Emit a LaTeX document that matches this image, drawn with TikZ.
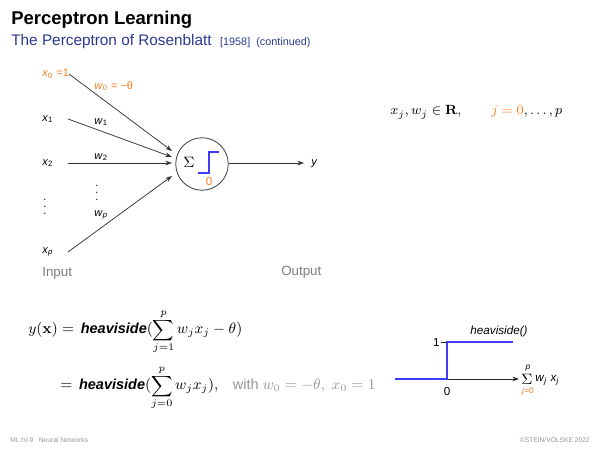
\documentclass[tikz,border=0pt]{standalone}
\usepackage{amsmath,amssymb}
\usepackage[no-math]{fontspec}
\setmainfont{Liberation Sans}
\usetikzlibrary{arrows.meta,calc}
\definecolor{orng}{RGB}{240,128,32}
\definecolor{subblue}{RGB}{43,57,144}
\definecolor{stepblue}{RGB}{60,60,250}
\definecolor{midgray}{RGB}{125,125,125}
\definecolor{lgray}{RGB}{150,150,150}
\definecolor{fgray}{RGB}{150,150,150}
\tikzset{
  inlbl/.style={anchor=west, inner sep=0pt, font=\fontsize{6.6}{8}\selectfont},
  wlbl/.style={anchor=west, inner sep=0pt, font=\fontsize{6.6}{8}\selectfont},
  conn/.style={draw=black!80, line width=0.45pt, -{Stealth[length=4pt,width=2.8pt]}},
  capt/.style={anchor=west, inner sep=0pt, text=midgray, font=\fontsize{8}{9}\selectfont},
  stepline/.style={draw=stepblue, line width=0.7pt},
  eqn/.style={anchor=base west, inner sep=0pt, font=\fontsize{8.7}{10}\selectfont},
  foot/.style={inner sep=0pt, text=fgray, font=\fontsize{4}{5}\selectfont}
}
\begin{document}
\begin{tikzpicture}[x=0.6pt,y=-0.6pt]
\useasboundingbox (0,0) rectangle (600,450);
% title
\node[anchor=base west, inner sep=0pt, font=\fontsize{11.1}{13}\selectfont\bfseries] (title) at (11,25) {Perceptron Learning};
\node[anchor=base west, inner sep=0pt, text=subblue, font=\fontsize{9.2}{11}\selectfont] (sub) at (11,46) {The Perceptron of Rosenblatt \ {\fontsize{6.5}{8}\selectfont[1958] \ (continued)}};
% inputs
\node[inlbl, text=orng] (x0) at (42,74) {\textit{x}\textsubscript{0} =1};
\node[inlbl] (x1) at (42,119) {\textit{x}\textsubscript{1}};
\node[inlbl] (x2) at (42,163) {\textit{x}\textsubscript{2}};
\node[inlbl] (xd) at (43,202) {$\vdots$};
\node[inlbl] (xp) at (42,252) {\textit{x}\textsubscript{\textit{p}}};
\node[capt] (inp) at (42,273) {Input};
\node[capt] (outp) at (281,272) {Output};
% neuron
\node[circle, draw=black!75, line width=0.5pt, minimum size=31.5pt, inner sep=0pt] (neuron) at (202,164) {};
\node[inner sep=0pt, font=\fontsize{9.5}{10}\selectfont] (sig) at (189,162) {$\Sigma$};
\draw[stepline] (198,173) -- (209,173) -- (209,152) -- (219,152);
\node[inner sep=0pt, text=orng, font=\fontsize{7}{8}\selectfont] (zero) at (209,181) {0};
% connector endpoints
\coordinate (s0) at (69,74);
\coordinate (s1) at (68,119);
\coordinate (s2) at (68,163);
\coordinate (sp) at (68,252);
\coordinate (e0) at (172,151);
\coordinate (e1) at (172,157);
\coordinate (e2) at (172,163);
\coordinate (ep) at (172,176);
\coordinate (yend) at (304,163);
\draw[conn] (s0) -- (e0);
\draw[conn] (s1) -- (e1);
\draw[conn] (s2) -- (e2);
\draw[conn] (sp) -- (ep);
\draw[conn] (neuron.east |- e2) -- (yend);
\node[inlbl] (y) at (311,164) {\textit{y}};
% weights
\node[wlbl, text=orng] (w0) at (94,86) {\textit{w}\textsubscript{0} = −θ};
\node[wlbl] (w1) at (94,122) {\textit{w}\textsubscript{1}};
\node[wlbl] (w2) at (94,157) {\textit{w}\textsubscript{2}};
\node[wlbl] (wd) at (95,188) {$\vdots$};
\node[wlbl] (wp) at (94,215) {\textit{w}\textsubscript{\textit{p}}};
% domain
\node[eqn, font=\fontsize{8.3}{10}\selectfont] (dom) at (390,115) {$x_j, w_j \in \mathbf{R}, \qquad {\color{orng} j = 0}, \ldots, p$};
% equations
\node[eqn] (eq1) at (28,334) {$y(\mathbf{x}) ={}$\,\textbf{\textit{heaviside}}$\displaystyle(\sum_{j=1}^{p} w_j x_j - \theta)$};
\node[eqn] (eq2) at (60,390) {$={}$\,\textbf{\textit{heaviside}}$\displaystyle(\sum_{j=0}^{p} w_j x_j),$\quad {\color{lgray}with $w_0=-\theta,\ x_0=1$}};
% heaviside plot
\coordinate (ax0) at (395,379);
\coordinate (org) at (447,379);
\coordinate (axe) at (519,379);
\coordinate (top) at (447,342);
\coordinate (tope) at (513,342);
\coordinate (tick) at (441,342);
\draw[draw=black!85, line width=0.45pt, -{Stealth[length=4pt,width=2.8pt]}] (org) -- (axe);
\draw[stepline] (ax0) -- (org) -- (top) -- (tope);
\draw[black!85, line width=0.45pt] (tick) -- (top);
\node[anchor=east, inner sep=0pt, font=\fontsize{7}{8}\selectfont] (one) at (440,342) {1};
\node[inner sep=0pt, font=\fontsize{7}{8}\selectfont] (zer) at (447,391) {0};
\node[inner sep=0pt, font=\fontsize{7}{8}\selectfont\itshape] (hlab) at (499,331) {heaviside()};
\node[inner sep=0pt, font=\fontsize{9}{9}\selectfont] (hsum) at (527,379) {$\Sigma$};
\node[inner sep=0pt, font=\fontsize{5}{6}\selectfont\itshape] (hp) at (528,368) {p};
\node[inner sep=0pt, text=orng, font=\fontsize{5}{6}\selectfont] (hj) at (528,391) {\textit{j}=0};
\node[anchor=west, inner sep=0pt, font=\fontsize{7}{8}\selectfont] (hwx) at (535,380) {\textit{w}\textsubscript{\textit{j}} \textit{x}\textsubscript{\textit{j}}};
% footer
\node[foot, anchor=base west] (fl) at (10,443) {ML:IV-9 \ \ Neural Networks};
\node[foot, anchor=base east] (fr) at (590,443) {©STEIN/VÖLSKE 2022};
\end{tikzpicture}
\end{document}
